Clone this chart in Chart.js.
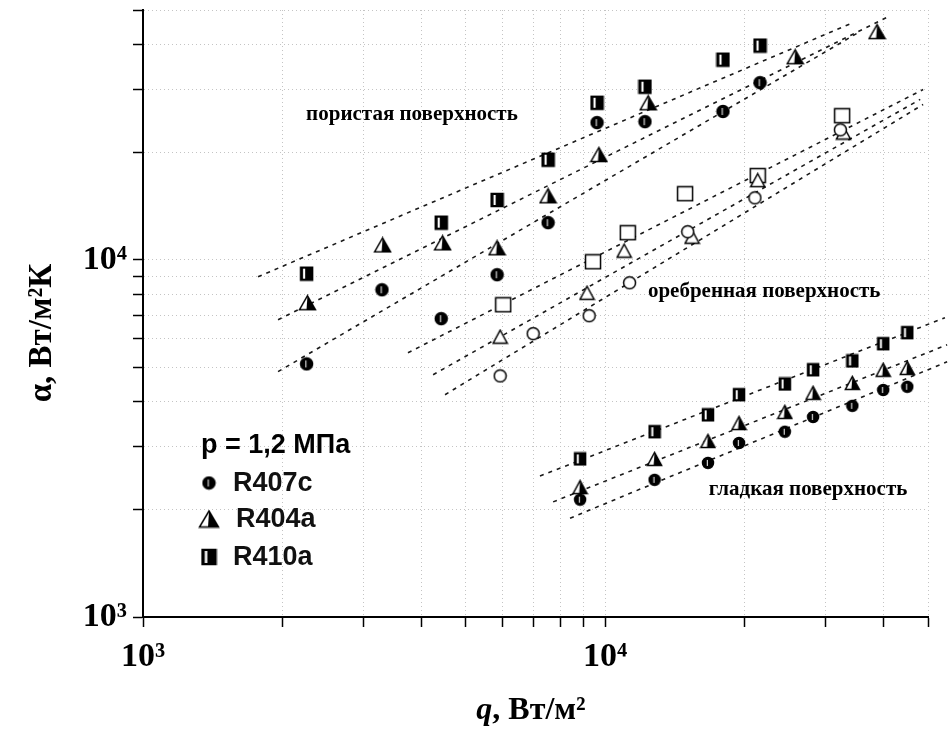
<!DOCTYPE html>
<html>
<head>
<meta charset="utf-8">
<script src="https://cdn.jsdelivr.net/npm/chart.js@4.4.1/dist/chart.umd.min.js"></script>
<style>
html,body{margin:0;padding:0;background:#fff;}
#wrap{width:948px;height:731px;position:relative;}
</style>
</head>
<body>
<div id="wrap"><canvas id="c" width="948" height="731"></canvas></div>
<script>
// ---- tick values ----
const xTickValues = [1000,2000,3000,4000,5000,6000,7000,8000,9000,10000,20000,30000,40000,50000];
const yTickValues = [1000,2000,3000,4000,5000,6000,7000,8000,9000,10000,20000,30000,40000,50000];
const tickLabels = {1000: '10³', 10000: '10⁴'};

// ---- porous surface (пористая поверхность) ----
const porR407cX = [2260, 3290, 4420, 5840, 7530, 9610, 12200, 18000, 21650];
const porR407cY = [5110, 8240, 6840, 9080, 12700, 24200, 24350, 26000, 31300];
const porR404aX = [2270, 3300, 4450, 5840, 7530, 9700, 12400, 25800, 38800];
const porR404aY = [7580, 11000, 11150, 10800, 15100, 19700, 27500, 37000, 43500];
const porR410aX = [2260, 4420, 5840, 7530, 9610, 12200, 18000, 21650];
const porR410aY = [9140, 12700, 14700, 19050, 27500, 30500, 36300, 39750];

// ---- finned surface (оребренная поверхность) ----
const finR407cX = [5930, 6990, 9240, 11300, 15100, 21100, 32300];
const finR407cY = [4730, 6210, 6970, 8620, 11980, 14900, 23100];
const finR404aX = [5930, 9140, 11000, 15430, 21400, 32800];
const finR404aY = [6090, 8080, 10600, 11600, 16700, 22700];
const finR410aX = [6020, 9420, 11200, 14900, 21400, 32600];
const finR410aY = [7480, 9870, 11900, 15300, 17200, 25300];

// ---- smooth surface (гладкая поверхность) ----
const smoothX = [8830, 12800, 16700, 19500, 24500, 28200, 34300, 40000, 45100];
const smR410aY = [2770, 3300, 3680, 4190, 4490, 4920, 5210, 5820, 6250];
const smR404aY = [2310, 2770, 3110, 3490, 3750, 4240, 4520, 4920, 4980];
const smR407cY = [2130, 2420, 2700, 3070, 3300, 3630, 3900, 4320, 4410];

// ---- fitted lines (endpoints) ----
const fitPorR410aX = [1774, 34400],  fitPorR410aY = [8960, 46100];
const fitPorR404aX = [1960, 41000],  fitPorR404aY = [6790, 47900];
const fitPorR407cX = [1960, 35300],  fitPorR407cY = [4860, 43200];
const fitFinR410aX = [3745, 48800],  fitFinR410aY = [5490, 29950];
const fitFinR404aX = [4245, 48100],  fitFinR404aY = [4765, 28100];
const fitFinR407cX = [4505, 48800],  fitFinR407cY = [4190, 27200];
const fitSmR410aX  = [7230, 54400],  fitSmR410aY  = [2480, 6880];
const fitSmR404aX  = [7720, 55000],  fitSmR404aY  = [2100, 5780];
const fitSmR407cX  = [8400, 55000],  fitSmR407cY  = [1890, 5180];

const legendTitle = 'p = 1,2 МПа';
const seriesNames = ['R407c', 'R404a', 'R410a'];
const surfaceLabels = ['пористая поверхность', 'оребренная поверхность', 'гладкая поверхность'];
const xTitleVar = 'q', xTitleUnit = ', Вт/м²';
const yTitle = 'α, Вт/м²К';

// ---- marker images ----
function marker(shape, mode, w, h) {
  h = h || w;
  const c = document.createElement('canvas');
  c.width = w + 3; c.height = h + 3;
  const g = c.getContext('2d');
  const ox = 1.5, oy = 1.5;
  g.lineWidth = 1.5; g.strokeStyle = '#000'; g.fillStyle = '#000';
  if (shape === 'square') {
    if (mode === 'open') {
      g.fillStyle = '#fff'; g.fillRect(ox, oy, w, h);
      g.strokeRect(ox, oy, w, h);
    } else {
      g.fillRect(ox, oy, w, h);
      g.fillStyle = '#fff';
      g.fillRect(ox + w * 0.2, oy + 1.5, Math.max(1.5, w * 0.18), h - 3);
      g.strokeRect(ox, oy, w, h);
    }
  } else if (shape === 'triangle') {
    const ax = ox + w / 2, ay = oy, bx = ox + w, by = oy + h, cx = ox, cy = oy + h;
    g.beginPath(); g.moveTo(ax, ay); g.lineTo(bx, by); g.lineTo(cx, cy); g.closePath();
    g.fillStyle = '#fff'; g.fill();
    if (mode !== 'open') {
      g.beginPath(); g.moveTo(ax, ay); g.lineTo(bx, by); g.lineTo(ax - 1, by); g.closePath();
      g.fillStyle = '#000'; g.fill();
    }
    g.beginPath(); g.moveTo(ax, ay); g.lineTo(bx, by); g.lineTo(cx, cy); g.closePath();
    g.stroke();
  } else {
    const r = w / 2, cx = ox + r, cy = oy + r;
    g.beginPath(); g.arc(cx, cy, r, 0, Math.PI * 2);
    if (mode === 'open') { g.fillStyle = '#fff'; g.fill(); g.stroke(); }
    else {
      g.fillStyle = '#000'; g.fill();
      g.fillStyle = '#fff';
      g.fillRect(cx - 1.2, cy - r + 2.5, 1, 2 * r - 5);
      g.stroke();
    }
  }
  return c;
}

const mk = {
  porCircle: marker('circle', 'half', 12),
  porTri: marker('triangle', 'half', 16, 14),
  porSq: marker('square', 'half', 12, 13),
  finCircle: marker('circle', 'open', 12),
  finTri: marker('triangle', 'open', 14, 13),
  finSq: marker('square', 'open', 15, 14),
  smCircle: marker('circle', 'half', 11),
  smTri: marker('triangle', 'half', 14, 13),
  smSq: marker('square', 'half', 11, 12),
  lgCircle: marker('circle', 'half', 12),
  lgTri: marker('triangle', 'half', 19, 16),
  lgSq: marker('square', 'half', 14, 15)
};

function pts(xs, ys) { return xs.map((x, i) => ({x: x, y: ys[i]})); }

function pointDs(label, xs, ys, img) {
  return {type: 'scatter', label: label, data: pts(xs, ys), pointStyle: img,
    pointRadius: 6, showLine: false, order: 1, clip: false};
}
function lineDs(label, xs, ys) {
  return {type: 'scatter', label: label, data: pts(xs, ys), showLine: true,
    pointRadius: 0, borderColor: '#1a1a1a', borderWidth: 1.6, borderDash: [4, 5],
    order: 2, clip: false, fill: false};
}

const datasets = [
  lineDs('fit por R410a', fitPorR410aX, fitPorR410aY),
  lineDs('fit por R404a', fitPorR404aX, fitPorR404aY),
  lineDs('fit por R407c', fitPorR407cX, fitPorR407cY),
  lineDs('fit fin R410a', fitFinR410aX, fitFinR410aY),
  lineDs('fit fin R404a', fitFinR404aX, fitFinR404aY),
  lineDs('fit fin R407c', fitFinR407cX, fitFinR407cY),
  lineDs('fit sm R410a', fitSmR410aX, fitSmR410aY),
  lineDs('fit sm R404a', fitSmR404aX, fitSmR404aY),
  lineDs('fit sm R407c', fitSmR407cX, fitSmR407cY),
  pointDs('R407c пористая', porR407cX, porR407cY, mk.porCircle),
  pointDs('R404a пористая', porR404aX, porR404aY, mk.porTri),
  pointDs('R410a пористая', porR410aX, porR410aY, mk.porSq),
  pointDs('R407c оребренная', finR407cX, finR407cY, mk.finCircle),
  pointDs('R404a оребренная', finR404aX, finR404aY, mk.finTri),
  pointDs('R410a оребренная', finR410aX, finR410aY, mk.finSq),
  pointDs('R407c гладкая', smoothX, smR407cY, mk.smCircle),
  pointDs('R404a гладкая', smoothX, smR404aY, mk.smTri),
  pointDs('R410a гладкая', smoothX, smR410aY, mk.smSq)
];

const serif = "'Liberation Serif', 'Times New Roman', serif";
const sans = "'Liberation Sans', Arial, sans-serif";

const annotPlugin = {
  id: 'annot',
  afterDraw(chart) {
    const ctx = chart.ctx, xs = chart.scales.x, ys = chart.scales.y;
    ctx.save();
    ctx.fillStyle = '#000';
    ctx.textBaseline = 'middle';
    ctx.textAlign = 'center';
    ctx.font = 'bold 21px ' + serif;
    ctx.fillText(surfaceLabels[0], xs.getPixelForValue(3820), ys.getPixelForValue(25500));
    ctx.fillText(surfaceLabels[1], xs.getPixelForValue(22100), ys.getPixelForValue(8130));
    ctx.fillText(surfaceLabels[2], xs.getPixelForValue(27500), ys.getPixelForValue(2280));

    // legend
    ctx.textAlign = 'left';
    ctx.font = 'bold 27px ' + sans;
    ctx.fillText(legendTitle, 201, 446);
    ctx.font = 'bold 27px ' + sans;
    ctx.fillStyle = '#111';
    const imgs = [mk.lgCircle, mk.lgTri, mk.lgSq];
    const rows = [483, 519, 557];
    const tx = [233, 236, 233];
    for (let i = 0; i < 3; i++) {
      const im = imgs[i];
      ctx.drawImage(im, 209 - im.width / 2, rows[i] - im.height / 2);
      ctx.fillText(seriesNames[i], tx[i], rows[i] + 1);
    }

    // axis titles
    ctx.fillStyle = '#000';
    ctx.textBaseline = 'middle';
    const fItal = 'italic bold 32px ' + serif, fBold = 'bold 32px ' + serif;
    ctx.font = fItal; const w1 = ctx.measureText(xTitleVar).width;
    ctx.font = fBold; const w2 = ctx.measureText(xTitleUnit).width;
    const cx = 531, cy = 711;
    let x0 = cx - (w1 + w2) / 2;
    ctx.textAlign = 'left';
    ctx.font = fItal; ctx.fillText(xTitleVar, x0, cy);
    ctx.font = fBold; ctx.fillText(xTitleUnit, x0 + w1, cy);

    ctx.translate(42, 333);
    ctx.rotate(-Math.PI / 2);
    ctx.textAlign = 'center';
    ctx.font = 'bold 33px ' + serif;
    ctx.fillText(yTitle, 0, 0);
    ctx.restore();
  }
};

function axisCommon(tickVals) {
  return {
    type: 'logarithmic',
    min: 1000, max: 50000,
    afterBuildTicks(s) { s.ticks = tickVals.map(v => ({value: v, major: !!tickLabels[v]})); },
    ticks: {
      autoSkip: false, maxRotation: 0, minRotation: 0,
      color: '#000',
      font: {family: serif, weight: 'bold', size: 34},
      callback: (v) => tickLabels[v] || ''
    },
    grid: {
      display: true, drawOnChartArea: true, drawTicks: true,
      color: '#c4c4c4', lineWidth: 1,
      tickColor: '#000', tickLength: 10, tickWidth: 1.5
    },
    border: {display: true, color: '#000', width: 2, dash: [1, 3]}
  };
}

const xAxis = axisCommon(xTickValues);
xAxis.position = 'bottom';
xAxis.ticks.padding = 10;
xAxis.title = {display: false};
xAxis.afterFit = (s) => { s.height = 114; s.paddingLeft = 0; s.paddingRight = 0; };

const yAxis = axisCommon(yTickValues);
yAxis.position = 'left';
yAxis.ticks.padding = 6;
yAxis.title = {display: false};
yAxis.afterFit = (s) => { s.width = 143; s.paddingTop = 0; s.paddingBottom = 0; };

new Chart(document.getElementById('c'), {
  type: 'scatter',
  data: {datasets: datasets},
  options: {
    responsive: false,
    devicePixelRatio: 1,
    animation: false,
    layout: {padding: {top: 10, right: 20, bottom: 0, left: 0}},
    plugins: {legend: {display: false}, tooltip: {enabled: false}},
    scales: {x: xAxis, y: yAxis}
  },
  plugins: [annotPlugin]
});
</script>
</body>
</html>
